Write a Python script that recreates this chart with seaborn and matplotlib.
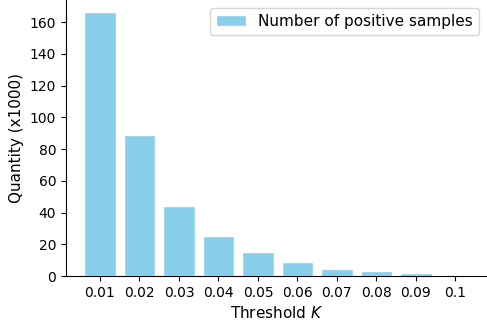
import matplotlib
matplotlib.use("Agg")
import matplotlib.pyplot as plt
import seaborn as sns
import pandas as pd

thresholds = ["0.01", "0.02", "0.03", "0.04", "0.05", "0.06", "0.07", "0.08", "0.09", "0.1"]
positives = [166.3, 88.8, 44.2, 25.2, 15.1, 8.8, 4.6, 3.0, 1.8, 0.7]

df = pd.DataFrame({"Threshold": thresholds, "Count": positives})

sns.set_style("ticks", {"text.color": "black", "axes.labelcolor": "black",
                        "xtick.color": "black", "ytick.color": "black",
                        "axes.edgecolor": "black"})
plt.rcParams['font.family'] = ['DejaVu Sans']

fig = plt.figure(figsize=(4.87, 3.23), dpi=100)
ax = fig.add_axes([66/487, 1-276/323, 1-66/487, 276/323])

sns.barplot(data=df, x="Threshold", y="Count", color="#87CEEB", saturation=1,
            width=0.8, edgecolor="white", linewidth=1, ax=ax,
            label="Number of positive samples")
ax.set_xlim(-0.86, 9.8)
ax.set_ylim(0, 174)
ax.set_yticks([0, 20, 40, 60, 80, 100, 120, 140, 160])
ax.tick_params(labelsize=10)
ax.set_xlabel("Threshold $K$", fontsize=11)
ax.set_ylabel("Quantity (x1000)", fontsize=11)
ax.legend(loc="upper right", fontsize=11, frameon=True)
sns.despine(ax=ax)
fig.savefig("out.png", dpi=100)
